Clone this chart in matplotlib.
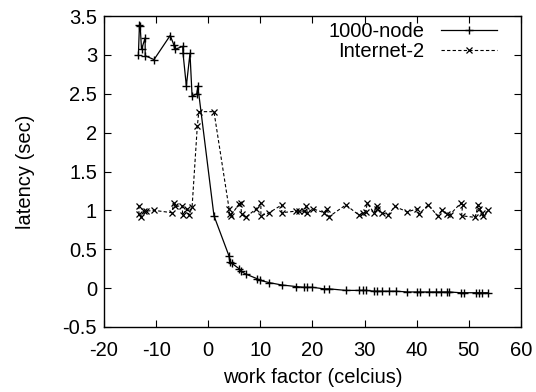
import matplotlib
matplotlib.use("Agg")
import matplotlib.pyplot as plt

plt.rcParams['font.family'] = ['Liberation Sans', 'DejaVu Sans']

# 1000-node series
node_x = [-13.4, -13.2, -13.05, -12.8, -12.1, -12.1, -10.4, -7.3, -6.6, -6.45,
          -4.9, -4.85, -4.2, -3.5, -3.1, -2.2, -2.0, 1.1, 4.0, 4.1, 4.5,
          5.9, 6.2, 7.2, 9.4, 9.9, 11.7, 14.1, 16.8, 18.4, 19.0, 20.0,
          22.2, 23.2, 26.4, 28.9, 29.6, 30.2, 31.8, 32.4, 33.4, 34.7, 36.0,
          38.2, 40.1, 40.6, 42.4, 43.6, 44.6, 45.9, 46.2, 48.4, 49.1, 51.3,
          52.0, 52.6, 53.7]
node_y = [3.00, 3.38, 3.37, 3.07, 3.22, 2.99, 2.94, 3.25, 3.13, 3.07,
          3.11, 3.03, 2.60, 3.02, 2.47, 2.50, 2.60, 0.93, 0.41, 0.34, 0.32,
          0.25, 0.22, 0.18, 0.12, 0.10, 0.07, 0.04, 0.02, 0.01, 0.01, 0.01,
          -0.01, -0.01, -0.03, -0.03, -0.03, -0.03, -0.04, -0.04, -0.04, -0.04, -0.04,
          -0.05, -0.05, -0.05, -0.05, -0.05, -0.05, -0.05, -0.05, -0.06, -0.06, -0.06,
          -0.06, -0.06, -0.06]

# Internet-2 series
inet_x = [-13.3, -13.3, -12.9, -12.3, -11.9, -10.4, -7.0, -6.6, -6.45, -5.0,
          -4.9, -4.1, -3.7, -3.1, -2.1, -1.8, 1.1, 4.0, 4.1, 4.3, 5.9, 6.2,
          6.4, 7.2, 9.2, 10.1, 10.1, 11.7, 14.1, 14.1, 16.8, 17.4, 18.4,
          18.8, 19.0, 20.1, 22.2, 22.8, 23.2, 26.4, 28.9, 29.6, 30.2, 30.5,
          31.8, 32.3, 32.4, 33.4, 34.5, 35.8, 38.2, 40.1, 40.4, 42.2, 44.0,
          44.8, 45.9, 46.3, 48.4, 48.8, 48.6, 51.2, 51.8, 52.0, 52.6, 52.8, 53.7]
inet_y = [1.06, 0.95, 0.91, 0.99, 0.99, 1.00, 0.97, 1.09, 1.05, 1.06,
          0.94, 1.02, 0.94, 1.04, 2.08, 2.27, 2.27, 1.02, 0.95, 0.93, 1.08, 1.10,
          0.95, 0.91, 1.02, 1.09, 0.93, 0.97, 1.07, 0.97, 0.99, 0.99, 0.99,
          1.05, 0.97, 1.02, 0.97, 1.02, 0.92, 1.07, 0.94, 0.96, 0.98, 1.09,
          0.97, 1.06, 1.02, 0.97, 0.94, 1.05, 0.98, 1.02, 0.95, 1.07, 0.93,
          1.00, 0.95, 0.94, 1.09, 1.07, 0.93, 0.91, 1.07, 1.02, 0.97, 0.93, 1.00]

x_ticks = [-20, -10, 0, 10, 20, 30, 40, 50, 60]
y_ticks = [-0.5, 0, 0.5, 1, 1.5, 2, 2.5, 3, 3.5]
y_labels = ['-0.5', '0', '0.5', '1', '1.5', '2', '2.5', '3', '3.5']

fig = plt.figure(figsize=(5.36, 3.92), dpi=100)
ax = fig.add_axes([0.194, 0.166, 0.778, 0.793])

ax.plot(node_x, node_y, color='black', linestyle='-', linewidth=0.9,
        marker='+', markersize=5.5, markeredgewidth=1.0, label='1000-node')
ax.plot(inet_x, inet_y, color='black', linestyle=(0, (3, 2)), linewidth=0.8,
        marker='x', markersize=5, markeredgewidth=0.9, label='Internet-2')

ax.set_xlim(-20, 60)
ax.set_ylim(-0.5, 3.5)
ax.set_xticks(x_ticks)
ax.set_yticks(y_ticks)
ax.set_xticklabels([str(t) for t in x_ticks])
ax.set_yticklabels(y_labels)
ax.tick_params(direction='in', top=True, right=True, length=5, width=0.8,
               labelsize=14.5)
ax.tick_params(axis='x', pad=10)
ax.tick_params(axis='y', pad=5)
for s in ax.spines.values():
    s.set_linewidth(1.0)

ax.set_xlabel('work factor (celcius)', fontsize=14.5, labelpad=6)
ax.set_ylabel('latency (sec)', fontsize=14.5, labelpad=20)

ax.legend(loc='upper right', bbox_to_anchor=(0.957, 1.0), frameon=False,
          markerfirst=False, fontsize=14.5, handlelength=2.8,
          handletextpad=0.8, labelspacing=0.05, borderaxespad=0,
          borderpad=0.3)

fig.savefig('out.png', dpi=100)
